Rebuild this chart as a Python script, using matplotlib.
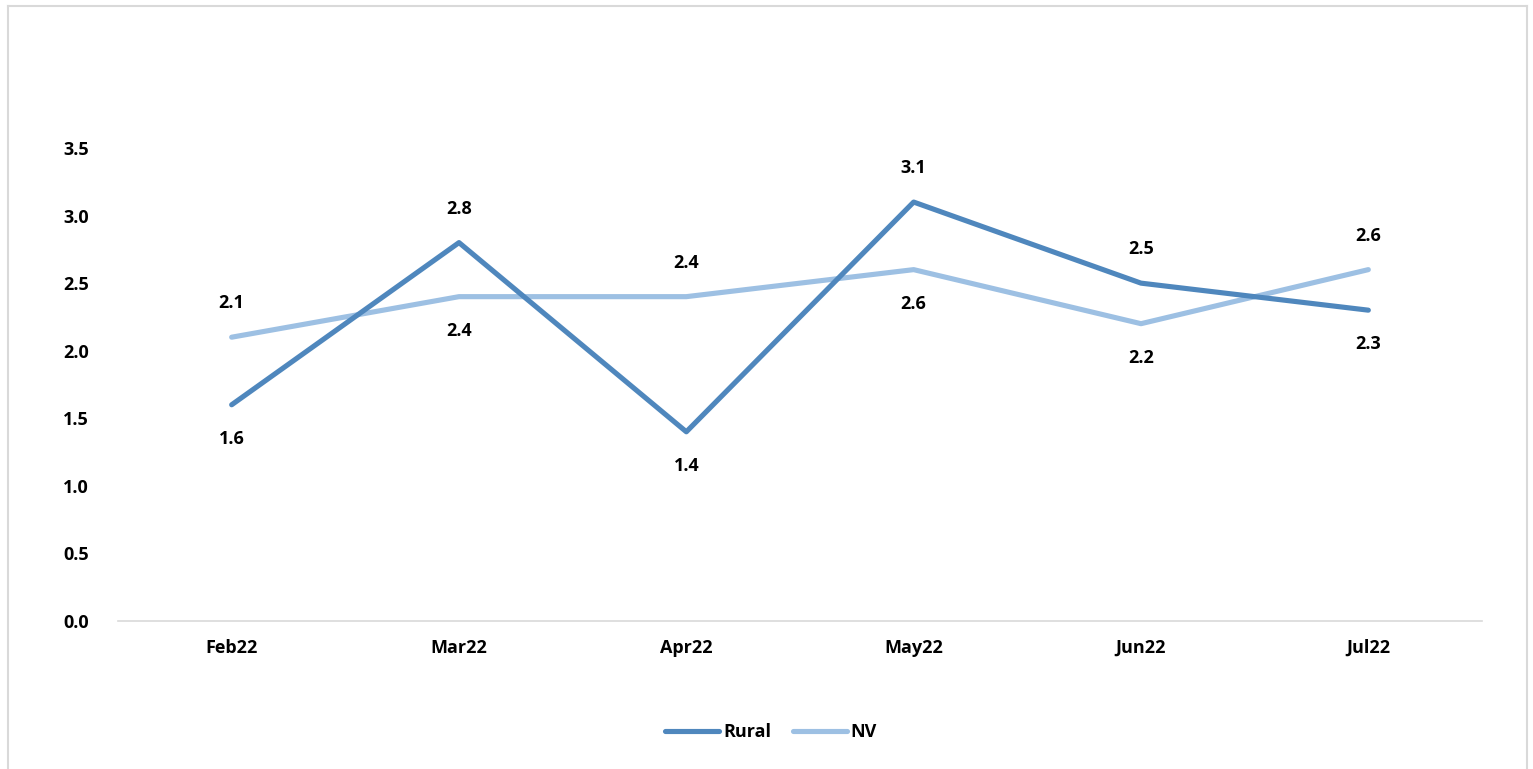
import matplotlib
matplotlib.use("Agg")
import matplotlib.pyplot as plt
from matplotlib.lines import Line2D

categories = ["Feb22", "Mar22", "Apr22", "May22", "Jun22", "Jul22"]
rural = [1.6, 2.8, 1.4, 3.1, 2.5, 2.3]
nv = [2.1, 2.4, 2.4, 2.6, 2.2, 2.6]
yticks = [0.0, 0.5, 1.0, 1.5, 2.0, 2.5, 3.0, 3.5]

rural_pos = ["below", "above", "below", "above", "above", "below"]
nv_pos = ["above", "below", "above", "below", "below", "above"]

plt.rcParams['font.family'] = ['Open Sans', 'DejaVu Sans']
FS = 13
W, H = 1533, 769
fig = plt.figure(figsize=(W/100, H/100), dpi=100)
ax = fig.add_axes([118/W, 1-621/H, (1482-118)/W, (621-148)/H])

c_rural = "#4f87bd"
c_nv = "#9dc0e3"
x = list(range(len(categories)))
ax.plot(x, rural, color=c_rural, lw=3.7, solid_capstyle='round', label="Rural", zorder=3)
ax.plot(x, nv, color=c_nv, lw=3.7, solid_capstyle='round', label="NV", zorder=2)

for xi, v, p in zip(x, rural, rural_pos):
    off = 24.5 if p == "above" else -24.5
    ax.annotate(f"{v:.1f}", (xi, v), xytext=(0, off), textcoords="offset points",
                ha="center", va="center", fontsize=FS, fontweight="bold", color="black")
for xi, v, p in zip(x, nv, nv_pos):
    off = 24.5 if p == "above" else -24.5
    ax.annotate(f"{v:.1f}", (xi, v), xytext=(0, off), textcoords="offset points",
                ha="center", va="center", fontsize=FS, fontweight="bold", color="black")

ax.set_xlim(-0.5, len(categories) - 0.5)
ax.set_ylim(0, 3.5)
ax.set_yticks(yticks)
ax.set_yticklabels([f"{t:.1f}" for t in yticks], fontsize=FS, fontweight="bold")
ax.set_xticks(x)
ax.set_xticklabels(categories, fontsize=FS, fontweight="bold")
ax.tick_params(axis='both', length=0)
ax.tick_params(axis='y', pad=21)
ax.tick_params(axis='x', pad=13)
for s in ["top", "right", "left"]:
    ax.spines[s].set_visible(False)
ax.spines["bottom"].set_color("#d9d9d9")
ax.spines["bottom"].set_linewidth(1.2)
ax.patch.set_visible(False)

leg = fig.legend(handles=[Line2D([], [], color=c_rural, lw=3.7, solid_capstyle='round'),
                          Line2D([], [], color=c_nv, lw=3.7, solid_capstyle='round')],
                 labels=["Rural", "NV"], loc="center", bbox_to_anchor=(771/W, 1-732/H),
                 ncol=2, frameon=False, prop={'weight': 'bold', 'size': FS},
                 handlelength=3.0, handletextpad=0.2, columnspacing=1.2)

# figure border (left, top, right)
bc = "#d9d9d9"
fig.add_artist(Line2D([8/W, 8/W], [0, 1-6/H], color=bc, lw=1.5, transform=fig.transFigure))
fig.add_artist(Line2D([8/W, 1527/W], [1-6/H, 1-6/H], color=bc, lw=1.5, transform=fig.transFigure))
fig.add_artist(Line2D([1527/W, 1527/W], [0, 1-6/H], color=bc, lw=1.5, transform=fig.transFigure))

fig.savefig("out.png", dpi=100)
